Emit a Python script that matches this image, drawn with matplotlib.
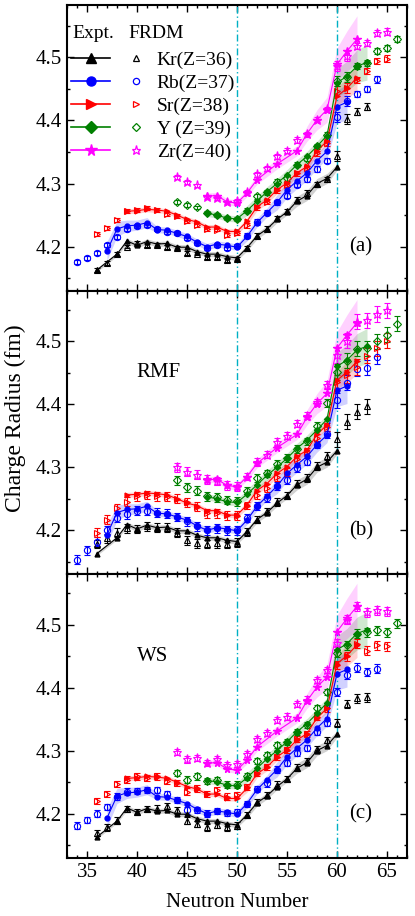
import numpy as np
import matplotlib
matplotlib.use('Agg')
from matplotlib import pyplot as plt
from matplotlib.lines import Line2D
from matplotlib.ticker import MultipleLocator

plt.rcParams['font.family'] = 'serif'
plt.rcParams['font.serif'] = ['Liberation Serif', 'DejaVu Serif']

# ---- experimental radii (filled symbols + line + band) ----
kr_n_exp = [36, 38, 39, 40, 41, 42, 43, 44, 45, 46, 47, 48, 49, 50, 51, 52, 53, 54, 55, 56, 57, 58, 59, 60]
kr_r_exp = [4.163, 4.188, 4.209, 4.202, 4.208, 4.204, 4.205, 4.199, 4.199, 4.192, 4.188, 4.188, 4.184, 4.182,
            4.198, 4.217, 4.228, 4.243, 4.255, 4.272, 4.281, 4.300, 4.308, 4.326]
kr_band = [0.003, 0.003, 0.004, 0.004, 0.004, 0.004, 0.004, 0.004, 0.004, 0.004, 0.004, 0.004, 0.004, 0.004,
           0.005, 0.005, 0.005, 0.005, 0.005, 0.008, 0.008, 0.008, 0.008, 0.005]

rb_n_exp = list(range(37, 62))
rb_r_exp = [4.193, 4.228, 4.233, 4.234, 4.238, 4.227, 4.226, 4.221, 4.216, 4.207, 4.200, 4.204, 4.202, 4.199,
            4.216, 4.238, 4.254, 4.270, 4.290, 4.304, 4.317, 4.336, 4.351, 4.422, 4.429]
rb_band = [0.015, 0.012, 0.009, 0.008, 0.008, 0.005, 0.005, 0.005, 0.005, 0.005, 0.005, 0.005, 0.005, 0.005,
           0.007, 0.007, 0.007, 0.012, 0.012, 0.012, 0.012, 0.012, 0.012, 0.026, 0.028]

sr_n_exp = list(range(39, 63))
sr_r_exp = [4.256, 4.257, 4.259, 4.258, 4.256, 4.250, 4.243, 4.239, 4.231, 4.231, 4.224, 4.224,
            4.240, 4.263, 4.274, 4.290, 4.301, 4.317, 4.327, 4.352, 4.367, 4.438, 4.451, 4.468]
sr_band = [0.004, 0.004, 0.004, 0.004, 0.004, 0.004, 0.004, 0.004, 0.004, 0.004, 0.004, 0.004,
           0.006, 0.006, 0.006, 0.006, 0.006, 0.006, 0.006, 0.006, 0.006, 0.014, 0.017, 0.020]

y_n_exp = list(range(47, 64))
y_r_exp = [4.253, 4.250, 4.245, 4.244, 4.257, 4.272, 4.287, 4.300, 4.314, 4.330, 4.343, 4.359, 4.376,
           4.460, 4.470, 4.486, 4.492]
y_band = [0.005, 0.005, 0.005, 0.005, 0.008, 0.008, 0.008, 0.008, 0.008, 0.008, 0.008, 0.008, 0.008,
          0.022, 0.024, 0.026, 0.028]

zr_n_exp = [47, 48, 49, 50, 51, 52, 54, 56, 57, 58, 59, 60, 61, 62]
zr_r_exp = [4.280, 4.281, 4.271, 4.269, 4.285, 4.306, 4.331, 4.352, 4.379, 4.401, 4.417, 4.489, 4.510, 4.529]
zr_band = [0.005, 0.005, 0.005, 0.005, 0.006, 0.007, 0.008, 0.008, 0.012, 0.016, 0.020, 0.026, 0.032, 0.037]

# ---- model predictions (open symbols with error bars) ----
kr_n = list(range(36, 64))
rb_n = list(range(34, 65))
sr_n = list(range(36, 66))
y_n = list(range(44, 67))
zr_n = list(range(44, 66))

frdm_kr = [4.163, 4.174, 4.188, 4.200, 4.206, 4.203, 4.203, 4.199, 4.198, 4.190, 4.189, 4.184, 4.184, 4.179,
           4.180, 4.197, 4.217, 4.228, 4.245, 4.256, 4.274, 4.285, 4.299, 4.307, 4.344, 4.402, 4.414, 4.422]
frdm_rb = [4.176, 4.182, 4.190, 4.202, 4.215, 4.228, 4.233, 4.234, 4.228, 4.223, 4.221, 4.213, 4.205, 4.198,
           4.202, 4.197, 4.201, 4.217, 4.239, 4.254, 4.270, 4.281, 4.298, 4.307, 4.323, 4.336, 4.405, 4.431,
           4.442, 4.450, 4.465]
frdm_sr = [4.220, 4.229, 4.242, 4.256, 4.258, 4.261, 4.258, 4.252, 4.248, 4.240, 4.234, 4.228, 4.227, 4.218,
           4.222, 4.234, 4.262, 4.271, 4.289, 4.298, 4.316, 4.324, 4.348, 4.364, 4.447, 4.451, 4.464, 4.478,
           4.494, 4.498]
frdm_y = [4.271, 4.266, 4.262, 4.254, 4.250, 4.245, 4.244, 4.257, 4.280, 4.286, 4.303, 4.308, 4.330, 4.339,
          4.359, 4.377, 4.463, 4.469, 4.486, 4.491, 4.510, 4.515, 4.529]
frdm_zr = [4.310, 4.303, 4.297, 4.279, 4.277, 4.270, 4.272, 4.286, 4.315, 4.324, 4.343, 4.352, 4.369, 4.378,
           4.401, 4.418, 4.487, 4.502, 4.518, 4.523, 4.539, 4.541]

rmf_kr = [4.178, 4.187, 4.196, 4.203, 4.202, 4.206, 4.204, 4.204, 4.196, 4.184, 4.179, 4.178, 4.179, 4.178,
          4.180, 4.197, 4.217, 4.230, 4.245, 4.255, 4.274, 4.283, 4.302, 4.318, 4.344, 4.372, 4.388, 4.397]
rmf_rb = [4.153, 4.168, 4.182, 4.200, 4.220, 4.225, 4.231, 4.231, 4.228, 4.226, 4.221, 4.214, 4.206, 4.200,
          4.203, 4.200, 4.200, 4.219, 4.238, 4.251, 4.270, 4.279, 4.298, 4.309, 4.336, 4.352, 4.406, 4.434,
          4.456, 4.458, 4.475]
rmf_sr = [4.196, 4.217, 4.235, 4.245, 4.254, 4.256, 4.254, 4.253, 4.250, 4.244, 4.237, 4.227, 4.227, 4.224,
          4.223, 4.239, 4.256, 4.267, 4.284, 4.292, 4.313, 4.324, 4.346, 4.364, 4.435, 4.446, 4.459, 4.477,
          4.489, 4.501]
rmf_y = [4.279, 4.268, 4.263, 4.254, 4.252, 4.248, 4.246, 4.263, 4.283, 4.290, 4.305, 4.315, 4.329, 4.341,
         4.366, 4.402, 4.451, 4.469, 4.488, 4.489, 4.500, 4.510, 4.528]
rmf_zr = [4.300, 4.293, 4.288, 4.281, 4.278, 4.271, 4.270, 4.285, 4.308, 4.320, 4.340, 4.350, 4.369, 4.382,
          4.403, 4.430, 4.478, 4.501, 4.531, 4.533, 4.543, 4.549]

ws_kr = [4.169, 4.178, 4.189, 4.207, 4.203, 4.207, 4.208, 4.212, 4.205, 4.189, 4.184, 4.178, 4.182, 4.178,
         4.181, 4.198, 4.218, 4.230, 4.246, 4.255, 4.273, 4.283, 4.302, 4.317, 4.344, 4.374, 4.383, 4.385]
ws_rb = [4.181, 4.190, 4.200, 4.210, 4.227, 4.235, 4.236, 4.238, 4.238, 4.231, 4.222, 4.205, 4.206, 4.200,
         4.204, 4.201, 4.203, 4.215, 4.239, 4.248, 4.270, 4.280, 4.296, 4.304, 4.330, 4.344, 4.393, 4.420,
         4.432, 4.425, 4.430]
ws_sr = [4.220, 4.231, 4.247, 4.254, 4.259, 4.257, 4.259, 4.252, 4.249, 4.235, 4.240, 4.231, 4.238, 4.227,
         4.229, 4.242, 4.264, 4.274, 4.290, 4.301, 4.318, 4.326, 4.354, 4.367, 4.436, 4.450, 4.470, 4.459,
         4.467, 4.466]
ws_y = [4.265, 4.254, 4.259, 4.252, 4.253, 4.246, 4.246, 4.259, 4.283, 4.293, 4.309, 4.314, 4.330, 4.341,
        4.367, 4.393, 4.455, 4.467, 4.486, 4.488, 4.491, 4.488, 4.502]
ws_zr = [4.298, 4.286, 4.288, 4.280, 4.286, 4.277, 4.279, 4.295, 4.318, 4.328, 4.349, 4.354, 4.374, 4.381,
         4.412, 4.428, 4.471, 4.508, 4.529, 4.520, 4.523, 4.521]

# error bars of the models, indexed by neutron number 34..66
err_n0 = 34
frdm_err = [0.003] * 17 + [0.004] * 9 + [0.008] * 2 + [0.005] * 5
rmf_err = [0.007] * 17 + [0.006] * 9 + [0.012] * 7
ws_err = [0.005] * 17 + [0.005] * 9 + [0.007] * 7

names = ['Kr(Z=36)', 'Rb(Z=37)', 'Sr(Z=38)', 'Y (Z=39)', 'Zr(Z=40)']
colors = ['#000000', '#0000FF', '#FF0000', '#008000', '#FF00FF']
markers = ['^', 'o', '>', 'D', '*']
msize = {'^': 4.5, 'o': 4.5, '>': 4.5, 'D': 4, '*': 6.5}

exp_n = [kr_n_exp, rb_n_exp, sr_n_exp, y_n_exp, zr_n_exp]
exp_r = [kr_r_exp, rb_r_exp, sr_r_exp, y_r_exp, zr_r_exp]
bands = [kr_band, rb_band, sr_band, y_band, zr_band]
mod_n = [kr_n, rb_n, sr_n, y_n, zr_n]
models = [([frdm_kr, frdm_rb, frdm_sr, frdm_y, frdm_zr], frdm_err, '(a)', None),
          ([rmf_kr, rmf_rb, rmf_sr, rmf_y, rmf_zr], rmf_err, '(b)', 'RMF'),
          ([ws_kr, ws_rb, ws_sr, ws_y, ws_zr], ws_err, '(c)', 'WS')]

fig = plt.figure(figsize=(4.15, 9.16), dpi=100)
boxes = [[0.1614, 0.6826, 0.8193, 0.3119],
         [0.1614, 0.3730, 0.8193, 0.3096],
         [0.1614, 0.0637, 0.8193, 0.3093]]
tops = [4.583, 4.58, 4.58]

axes = []
for k, (vals, err, tag, mname) in enumerate(models):
    ax = fig.add_axes(boxes[k])
    axes.append(ax)
    for i in range(5):
        n = np.array(exp_n[i])
        r = np.array(exp_r[i])
        b = np.array(bands[i])
        ax.fill_between(n, r - b, r + b, color=colors[i], alpha=0.18, lw=0, zorder=1)
    for i in range(5):
        n = np.array(mod_n[i])
        e = np.array(err)[n - err_n0]
        ax.errorbar(n, vals[i], yerr=e, fmt=markers[i], ms=msize[markers[i]], mfc='none',
                    mec=colors[i], mew=0.8, ecolor=colors[i], elinewidth=0.8, capsize=2,
                    capthick=0.8, zorder=3)
    for i in range(5):
        ax.plot(exp_n[i], exp_r[i], color=colors[i], lw=0.8, marker=markers[i],
                ms=msize[markers[i]] - 1.0, mfc=colors[i], mec=colors[i], zorder=4)
    for xv in (50, 60):
        ax.axvline(xv, color='#00B0C4', ls=(0, (5, 2, 1, 2)), lw=1.0, zorder=2)

    ax.set_xlim(33, 67)
    ax.set_ylim(4.13, tops[k])
    ax.xaxis.set_major_locator(MultipleLocator(5))
    ax.xaxis.set_minor_locator(MultipleLocator(1))
    ax.yaxis.set_major_locator(MultipleLocator(0.1))
    ax.yaxis.set_minor_locator(MultipleLocator(0.05))
    ax.tick_params(which='both', direction='in', top=True, right=True, width=1.0, labelsize=15)
    ax.tick_params(which='major', length=5)
    ax.tick_params(which='minor', length=2.5)
    for s in ax.spines.values():
        s.set_linewidth(1.5)
    if k < 2:
        ax.tick_params(labelbottom=False)
    ax.text(0.865, 0.155, tag, transform=ax.transAxes, ha='center', va='center', fontsize=15)
    if mname:
        ax.text(0.205, 0.71, mname, transform=ax.transAxes, ha='left', va='center', fontsize=15)

axes[2].set_xlabel('Neutron Number', fontsize=15, labelpad=8)
fig.text(0.036, 0.5437, 'Charge Radius (fm)', rotation=90, ha='center', va='center', fontsize=17)

# legend in panel (a)
ax = axes[0]
h_exp = [Line2D([], [], color=colors[i], marker=markers[i], ms=msize[markers[i]] + 2, lw=1.2)
         for i in range(5)]
h_mod = [Line2D([], [], ls='none', marker=markers[i], ms=msize[markers[i]], mfc='none',
                mec=colors[i], mew=0.9) for i in range(5)]
ax.legend(h_exp + h_mod, [''] * 5 + names, ncol=2, loc='upper left',
          bbox_to_anchor=(-0.005, 0.858), frameon=False, fontsize=14, handlelength=2.0,
          handletextpad=0.05, columnspacing=0.3, labelspacing=0.27, borderaxespad=0.0,
          borderpad=0.3)
ax.text(0.015, 0.902, 'Expt.', transform=ax.transAxes, ha='left', va='center', fontsize=14)
ax.text(0.18, 0.902, 'FRDM', transform=ax.transAxes, ha='left', va='center', fontsize=14)

fig.savefig('out.png', dpi=100)
